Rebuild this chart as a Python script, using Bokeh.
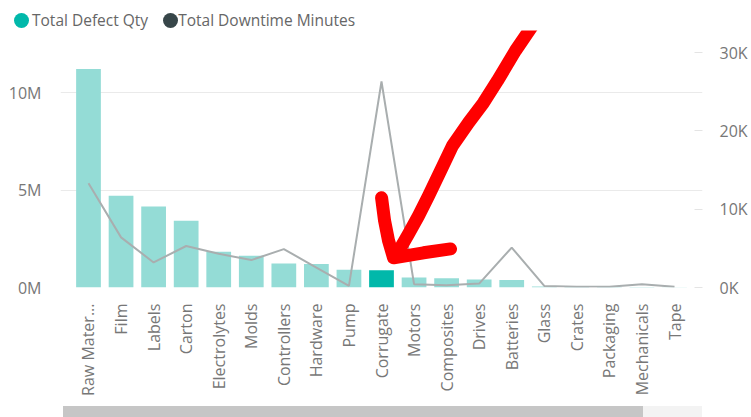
import math
from bokeh.plotting import figure
from bokeh.models import (Range1d, FactorRange, LinearAxis, FixedTicker, Div,
                          ColumnDataSource, CustomJSTickFormatter)
from bokeh.layouts import column
from bokeh.embed import file_html
from bokeh.resources import INLINE

# ---------------- data ----------------
categories = ["Raw Mater...", "Film", "Labels", "Carton", "Electrolytes", "Molds",
              "Controllers", "Hardware", "Pump", "Corrugate", "Motors", "Composites",
              "Drives", "Batteries", "Glass", "Crates", "Packaging", "Mechanicals", "Tape"]
defect_qty = [11.2e6, 4.70e6, 4.15e6, 3.42e6, 1.83e6, 1.63e6, 1.23e6, 1.20e6, 0.91e6,
              0.89e6, 0.51e6, 0.48e6, 0.41e6, 0.39e6, 0.05e6, 0.03e6, 0.02e6, 0.02e6, 0.01e6]
downtime_min = [13300, 6400, 3200, 5300, 4300, 3500, 4900, 2550, 200, 26300, 430, 300,
                500, 5100, 200, 100, 100, 430, 100]
series_names = ["Total Defect Qty", "Total Downtime Minutes"]
highlighted = "Corrugate"
left_ticks = [0, 5000000, 10000000]
left_tick_labels = ["0M", "5M", "10M"]
right_ticks = [0, 10000, 20000, 30000]
right_tick_labels = ["0K", "10K", "20K", "30K"]

# ---------------- styles ----------------
TEAL = "#01B8AA"
TEAL_LIGHT = "#94DCD6"
DARK = "#374649"
LINE_GREY = "#A9AEAF"
LABEL = "#777777"
FONT = "Open Sans"

bar_colors = [TEAL if c == highlighted else TEAL_LIGHT for c in categories]

p = figure(x_range=FactorRange(factors=categories, range_padding=0.36,
                               range_padding_units="absolute"),
           y_range=Range1d(0, 13.18e6),
           width=750, height=375, output_backend="svg", toolbar_location=None,
           min_border_left=60, min_border_right=48, min_border_top=0,
           min_border_bottom=118)
p.outline_line_color = None
p.background_fill_color = "white"
p.border_fill_color = "white"

p.extra_y_ranges = {"right": Range1d(0, 32810)}

FMT_CODE = "const i = tvals.indexOf(tick); return i >= 0 ? tlabels[i] : '';"

# left axis
lax = p.yaxis[0]
lax.ticker = FixedTicker(ticks=left_ticks)
lax.formatter = CustomJSTickFormatter(args=dict(tvals=left_ticks, tlabels=left_tick_labels),
                                      code=FMT_CODE)
lax.axis_line_color = None
lax.major_tick_line_color = None
lax.minor_tick_line_color = None
lax.major_label_standoff = 13
lax.major_label_text_font = FONT
lax.major_label_text_font_size = "16px"
lax.major_label_text_color = LABEL

# right axis
rax = LinearAxis(y_range_name="right", ticker=FixedTicker(ticks=right_ticks))
rax.formatter = CustomJSTickFormatter(args=dict(tvals=right_ticks, tlabels=right_tick_labels),
                                      code=FMT_CODE)
rax.axis_line_color = None
rax.major_tick_in = 8
rax.major_tick_out = 0
rax.major_tick_line_color = "#E4E4E4"
rax.minor_tick_line_color = None
rax.major_label_standoff = 17
rax.major_label_text_font = FONT
rax.major_label_text_font_size = "16px"
rax.major_label_text_color = LABEL
p.add_layout(rax, "right")

# x axis
xax = p.xaxis[0]
xax.major_label_orientation = math.pi / 2
xax.axis_line_color = None
xax.major_tick_line_color = None
xax.minor_tick_line_color = None
xax.major_label_standoff = 10
xax.major_label_text_font = FONT
xax.major_label_text_font_size = "16px"
xax.major_label_text_color = LABEL

p.xgrid.grid_line_color = None
p.ygrid.grid_line_color = "#EAEAEA"
p.ygrid.grid_line_width = 1

src = ColumnDataSource(dict(cat=categories, qty=defect_qty, color=bar_colors))
p.vbar(x="cat", top="qty", width=0.76, fill_color="color", line_color=None, source=src)
p.line(categories, downtime_min, y_range_name="right", line_color=LINE_GREY, line_width=2)

# hand-drawn red arrow annotation (synthetic category x, left-axis y)
arrow_xs = [[14.135, 13.613, 13.061, 12.632, 12.172, 11.681, 11.313, 10.945, 10.638, 10.331, 10.086, 9.902],
            [9.503, 9.595, 9.718, 9.871, 10.791, 11.620]]
arrow_ys = [[13.42e6, 12.14e6, 10.60e6, 9.47e6, 8.45e6, 7.27e6, 5.98e6, 4.70e6, 3.68e6, 2.75e6, 2.04e6, 1.57e6],
            [4.60e6, 3.42e6, 2.39e6, 1.52e6, 1.78e6, 1.98e6]]
p.multi_line(xs=arrow_xs, ys=arrow_ys, line_color="#FF0000", line_width=13,
             line_cap="round", line_join="round")

legend_html = (
    "<div style=\"display:flex;align-items:center;height:20px;margin-top:10px;font-family:'Open Sans';"
    "font-size:15.5px;color:#666666;white-space:nowrap\">"
    f"<span style=\"display:inline-block;width:15px;height:15px;border-radius:50%;background:{TEAL};margin-left:14px;margin-right:3px\"></span>"
    f"<span>{series_names[0]}</span>"
    f"<span style=\"display:inline-block;width:15px;height:15px;border-radius:50%;background:{DARK};margin-left:15px;margin-right:0px\"></span>"
    f"<span>{series_names[1]}</span></div>")
legend_div = Div(text=legend_html, width=750, height=30, margin=0)

scroll_html = ("<div style=\"margin:0 0 0 62.7px;width:639px;height:11px;background:#F3F3F3\">"
               "<div style=\"width:580px;height:11px;background:#C6C6C6\"></div></div>")
scroll_div = Div(text=scroll_html, width=750, height=11, margin=0)

layout = column(legend_div, p, scroll_div, spacing=0)
open("out.html", "w").write(file_html(layout, INLINE))
